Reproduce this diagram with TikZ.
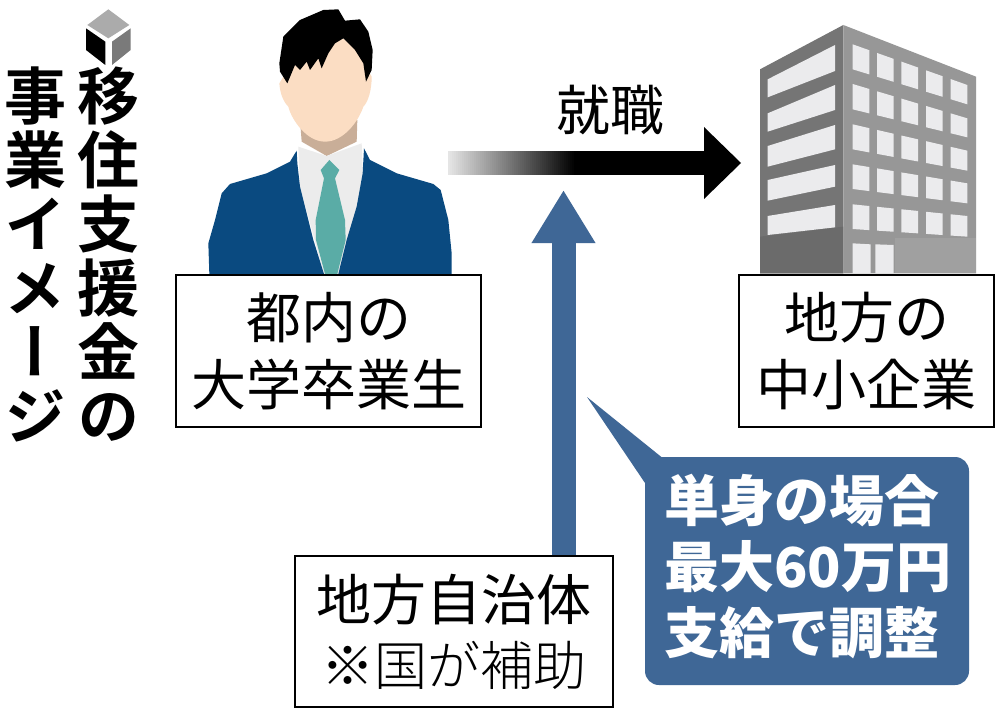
\documentclass[tikz,border=0pt]{standalone}
\usepackage{fontspec}
\setmainfont{Noto Sans CJK JP}
\newfontfamily\vertfont[RawFeature=+vert,BoldFont={Noto Sans CJK JP Bold}]{Noto Sans CJK JP}
\usetikzlibrary{arrows.meta,calc}
\definecolor{navyjacket}{HTML}{0A4A80}
\definecolor{tiegreen}{HTML}{5AACA6}
\definecolor{skin}{HTML}{FBDDC3}
\definecolor{neck}{HTML}{C9AE98}
\definecolor{shirt}{HTML}{ECECEC}
\definecolor{blueA}{HTML}{3F6796}
\definecolor{winG}{HTML}{EBEBED}
\definecolor{faceL}{HTML}{757575}
\definecolor{faceLow}{HTML}{6B6B6B}
\definecolor{faceR}{HTML}{979797}
\definecolor{faceRlow}{HTML}{A0A0A0}
\tikzset{
  labelbox/.style={draw=black,line width=1.6pt,fill=white,align=center,inner sep=0pt,
     font=\fontsize{55}{67}\selectfont},
  titlecol/.style={align=center,inner sep=0pt,text=black,
     font=\vertfont\bfseries\fontsize{62}{64}\selectfont},
  win/.style={fill=winG,draw=none},
}
\begin{document}
\begin{tikzpicture}[x=1pt,y=-1pt]
\useasboundingbox (0,0) rectangle (1000,711);
\fill[white] (0,0) rectangle (1000,711);

% cube icon
\begin{scope}[shift={(0,0)},scale=1/3]
\fill[black!33] (325,28) -- (388,75) -- (325,115) -- (262,75) -- cycle;
\fill[black] (258,85) -- (316,125) -- (316,195) -- (258,150) -- cycle;
\fill[black!52] (336,125) -- (392,85) -- (392,150) -- (336,195) -- cycle;
\end{scope}

% title
\node[titlecol] (t1) at (108,254) {移\\住\\支\\援\\金\\の};
\node[titlecol] (t2) at (36,254) {事\\業\\イ\\メ\\ー\\ジ};

% person
\begin{scope}[shift={(200,0)},scale=1/3]
\fill[neck] (300,360) -- (305,425) -- (380,468) -- (470,425) -- (472,360) -- cycle;
\fill[shirt] (295,440) -- (380,468) -- (485,430) -- (490,560) -- (415,822) -- (372,822) -- (300,560) -- cycle;
\fill[navyjacket] (290,452) -- (270,485) -- (200,520) -- (90,552) -- (65,580) -- (45,660) -- (25,730) -- (28,822) -- (372,822) -- (340,720) -- (300,560) -- (292,490) -- cycle;
\fill[navyjacket] (492,445) -- (510,480) -- (590,520) -- (700,552) -- (722,570) -- (745,660) -- (755,760) -- (755,822) -- (415,822) -- (440,720) -- (470,620) -- (488,520) -- cycle;
\fill[tiegreen] (388,480) -- (418,510) -- (405,535) -- (435,660) -- (437,720) -- (412,822) -- (375,822) -- (348,720) -- (347,660) -- (372,535) -- (362,510) -- cycle;
\fill[skin] (238,250) .. controls (240,280) and (250,305) .. (265,320) .. controls (275,360) and (320,425) .. (375,425) .. controls (430,425) and (475,365) .. (490,320) .. controls (505,305) and (515,270) .. (515,230) -- (470,150) -- (430,115) -- (300,150) -- cycle;
\fill[black] (238,190) -- (250,110) -- (300,60) -- (370,30) -- (415,28) -- (435,62) -- (480,58) -- (505,95) -- (518,150) -- (515,210) -- (498,245) -- (490,190) -- (465,150) -- (430,115) -- (405,130) -- (385,160) -- (365,205) -- (355,175) -- (330,210) -- (320,185) -- (300,210) -- (285,195) -- (262,250) -- (240,215) -- cycle;
\end{scope}

% building
\begin{scope}[shift={(740,10)},scale=1/3]
\fill[faceL] (60,178) -- (310,45) -- (310,790) -- (60,790) -- cycle;
\fill[faceLow] (60,680) -- (310,650) -- (310,790) -- (60,790) -- cycle;
\fill[faceR] (310,45) -- (708,200) -- (708,790) -- (310,790) -- cycle;
\fill[faceRlow] (465,685) -- (708,685) -- (708,790) -- (465,790) -- cycle;
\foreach \a/\b/\c/\d in {208/262/105/183,310/365/225/300,408/470/345/418,510/572/465/530,618/675/585/652}
  \fill[win] (83,\a) -- (285,\c) -- (285,\d) -- (83,\b) -- cycle;
\foreach \ta/\tb/\ba/\bb in {103/225/178/283,222/325/298/382,343/422/418/482,463/520/537/580,583/618/657/680}
  \foreach \xl in {338,411,484,558,632} {
    \pgfmathsetmacro\xr{\xl+50}
    \pgfmathsetmacro\pa{\ta+(\xl-338)/344*(\tb-\ta)}
    \pgfmathsetmacro\pb{\ta+(\xr-338)/344*(\tb-\ta)}
    \pgfmathsetmacro\pc{\ba+(\xr-338)/344*(\bb-\ba)}
    \pgfmathsetmacro\pd{\ba+(\xl-338)/344*(\bb-\ba)}
    \fill[win] (\xl,\pa) -- (\xr,\pb) -- (\xr,\pc) -- (\xl,\pd) -- cycle;
  }
\fill[win] (338,700) -- (392,703) -- (392,790) -- (338,790) -- cycle;
\fill[win] (406,703) -- (461,705) -- (461,790) -- (406,790) -- cycle;
\end{scope}

% boxes
\node[labelbox,minimum width=305pt,minimum height=152pt] (grad) at (328.5,351) {都内の\\大学卒業生};
\node[labelbox,minimum width=255pt,minimum height=152pt] (firm) at (866.5,351) {地方の\\中小企業};
\node[labelbox,minimum width=318pt,minimum height=151pt] (local) at (454,631.5) {地方自治体\\[-2pt]{\fontspec{Noto Sans CJK JP Light}\fontsize{53}{60}\selectfont ※国が補助}};

% callout
\coordinate (tip) at (587,397);
\fill[blueA,rounded corners=14pt] (645,457) rectangle (969,685);
\fill[blueA] (tip) -- (662,457.5) -- (645,483) -- cycle;
\fill[blueA] (645,470) rectangle (670,490);
\fill[blueA] (650,457.5) rectangle (670,475);
\node[text=white,align=left,anchor=west,inner sep=0pt,font=\bfseries\fontsize{55}{66}\selectfont] (note) at (664,567) {単身の場合\\最大60万円\\支給で調整};

% job arrow
\node[inner sep=0pt,font=\fontsize{54}{60}\selectfont] (job) at (610,110) {就職};
\coordinate (startjob) at (448,163);
\coordinate (endjob) at (741,163);
\foreach \i in {0,...,63} {
  \pgfmathsetmacro\shadepct{10+90*\i/63}
  \pgfmathsetmacro\stripx{448+2*\i}
  \fill[black!\shadepct] (\stripx,151) rectangle (705,175);
}
\fill[black] (endjob) -- ++(-37,-36) -- ++(0,72) -- cycle;

% subsidy arrow
\coordinate (subtip) at (563.5,190);
\draw[blueA,line width=24pt,-{Triangle[length=53pt,width=60pt]}] (local.north -| subtip) -- (subtip);
\end{tikzpicture}
\end{document}
